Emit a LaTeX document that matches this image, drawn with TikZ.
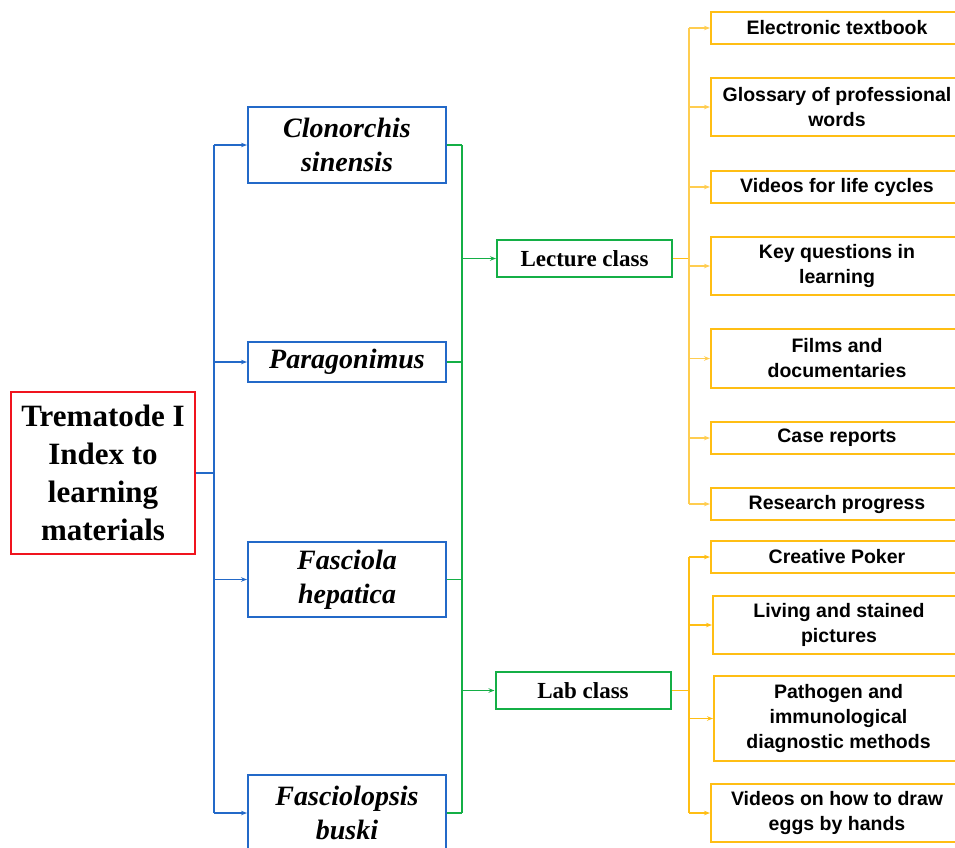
\documentclass[tikz,border=0pt]{standalone}
\usepackage{fontspec}
\setmainfont{Liberation Serif}
\newfontfamily\yfont{Liberation Sans}
\usetikzlibrary{arrows.meta}
\definecolor{cred}{RGB}{240,20,30}
\definecolor{cblue}{RGB}{35,105,200}
\definecolor{cgreen}{RGB}{20,175,70}
\definecolor{cyel}{RGB}{255,190,20}
\definecolor{cyell}{RGB}{255,205,80}
\tikzset{
  rootbox/.style={draw=cred,line width=2pt,minimum width=184pt,minimum height=162pt,align=center,font=\fontsize{31}{38}\selectfont\bfseries},
  spbox/.style={draw=cblue,line width=2pt,minimum width=198pt,align=center,font=\fontsize{28}{34}\selectfont\bfseries\itshape},
  clbox/.style={draw=cgreen,line width=2pt,minimum width=175pt,minimum height=37pt,align=center,font=\fontsize{23}{28}\selectfont\bfseries},
  itbox/.style={draw=cyel,line width=2pt,anchor=west,minimum width=252pt,align=center,font=\yfont\fontsize{19.5}{25}\selectfont\bfseries},
  tip/.style={-{Stealth[length=6pt,width=4.5pt]}},
  bl/.style={draw=cblue,line width=1.6pt},
  gl/.style={draw=cgreen,line width=1.6pt},
  yl/.style={draw=cyell,line width=1.6pt},
}
\begin{document}
\begin{tikzpicture}[x=1pt,y=-1pt]
\useasboundingbox (0,0) rectangle (955,847);
\clip (0,0) rectangle (955,847);
% root
\node[rootbox] (root) at (103,473) {Trematode I\\Index to\\learning\\materials};
% species
\node[spbox,minimum height=76pt] (b1) at (347,145) {Clonorchis\\sinensis};
\node[spbox,minimum height=40pt] (b2) at (347,362) {Paragonimus};
\node[spbox,minimum height=75pt] (b3) at (347,579.5) {Fasciola\\hepatica};
\node[spbox,minimum height=76pt] (b4) at (347,813) {Fasciolopsis\\buski};
% classes
\node[clbox] (lec) at (584.5,258.5) {Lecture class};
\node[clbox] (lab) at (583,690.5) {Lab class};
% items
\node[itbox,minimum height=32pt] (i1) at (710,28) {Electronic textbook};
\node[itbox,minimum height=58pt] (i2) at (710,107) {Glossary of professional\\words};
\node[itbox,minimum height=32pt] (i3) at (710,187) {Videos for life cycles};
\node[itbox,minimum height=58pt] (i4) at (710,266) {Key questions in\\learning};
\node[itbox,minimum height=59pt] (i5) at (710,358.5) {Films and\\documentaries};
\node[itbox,minimum height=32pt] (i6) at (710,438) {Case reports};
\node[itbox,minimum height=32pt] (i7) at (710,504) {Research progress};
\node[itbox,minimum height=32pt] (i8) at (710,557) {Creative Poker};
\node[itbox,minimum height=58pt] (i9) at (712,625) {Living and stained\\pictures};
\node[itbox,minimum height=85pt,minimum width=249pt] (i10) at (713,718.5) {Pathogen and\\immunological\\diagnostic methods};
\node[itbox,minimum height=58pt] (i11) at (710,813) {Videos on how to draw\\eggs by hands};
% blue connectors
\coordinate (bj) at (214,473);
\draw[bl] (root.east |- bj) -- (bj);
\draw[bl] (bj |- b1.west) -- (bj |- b4.west);
\foreach \n in {b1,b2,b3,b4} \draw[bl,tip] (bj |- \n.west) -- (\n.west);
% green connectors
\coordinate (gj) at (462,473);
\foreach \n in {b1,b2,b3,b4} \draw[gl] (\n.east) -- (gj |- \n.east);
\draw[gl] (gj |- b1.east) -- (gj |- b4.east);
\draw[gl,tip] (gj |- lec.west) -- (lec.west);
\draw[gl,tip] (gj |- lab.west) -- (lab.west);
% yellow connectors
\coordinate (yj) at (689,473);
\draw[draw=cyel,line width=1.6pt] (lec.east) -- (yj |- lec.east);
\draw[draw=cyel,line width=1.6pt] (lab.east) -- (yj |- lab.east);
\draw[yl] (yj |- i1.west) -- (yj |- i7.west);
\draw[draw=cyel,line width=1.6pt] (yj |- i8.west) -- (yj |- i11.west);
\foreach \n in {i1,i2,i3,i4,i5,i6,i7} \draw[yl,tip] (yj |- \n.west) -- (\n.west);
\foreach \n in {i8,i9,i10,i11} \draw[draw=cyel,line width=1.6pt,tip] (yj |- \n.west) -- (\n.west);
\end{tikzpicture}
\end{document}
